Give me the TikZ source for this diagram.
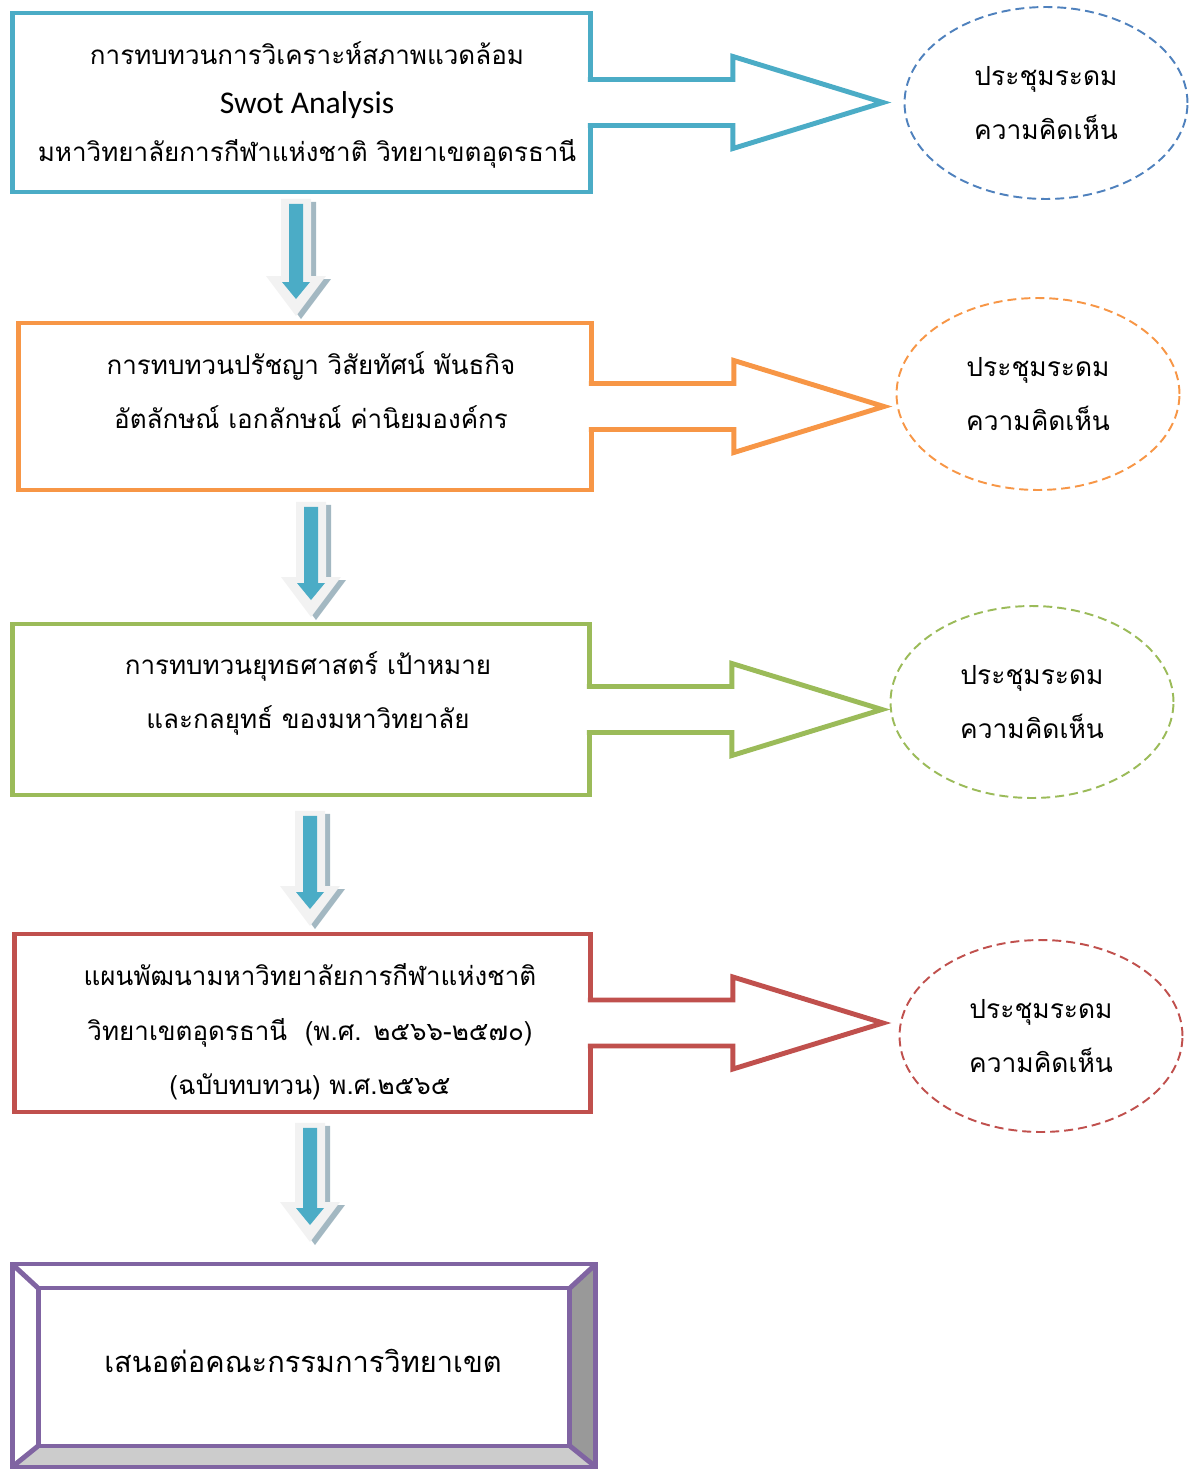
\documentclass[tikz,border=0pt]{standalone}
\usepackage{fontspec}
\newfontfamily\thaifont[Script=Thai]{Loma}
\newfontfamily\latinfont{Carlito}
\usetikzlibrary{calc,shapes.geometric}

\definecolor{swotcyan}{HTML}{4BACC6}
\definecolor{visionorange}{HTML}{F79646}
\definecolor{stratgreen}{HTML}{9BBB59}
\definecolor{planred}{HTML}{C0504D}
\definecolor{boardpurple}{HTML}{8064A2}
\definecolor{meetblue}{HTML}{4F81BD}
\definecolor{flowlight}{HTML}{F2F2F2}
\definecolor{flowshade}{HTML}{A3B8C2}

% block arrow pointing down: #1 = top, #2 = tip
\newcommand{\flowdown}[2]{%
  \fill[flowshade] ($(#1)+(-10,3)$) -- ($(#1)+(20,3)$) -- ($(#2)+(20,-37)$) -- ($(#2)+(35,-37)$)
     -- ($(#2)+(5,3)$) -- ($(#2)+(-25,-37)$) -- ($(#2)+(-10,-37)$) -- cycle;
  \fill[flowlight] ($(#1)+(-15,0)$) -- ($(#1)+(15,0)$) -- ($(#2)+(15,-40)$) -- ($(#2)+(30,-40)$)
     -- (#2) -- ($(#2)+(-30,-40)$) -- ($(#2)+(-15,-40)$) -- cycle;
  \fill[swotcyan] ($(#1)+(-7,5)$) -- ($(#1)+(7,5)$) -- ($(#2)+(7,-34)$) -- ($(#2)+(14,-34)$)
     -- ($(#2)+(0,-17)$) -- ($(#2)+(-14,-34)$) -- ($(#2)+(-7,-34)$) -- cycle;
}
% open block arrow from a box to the right
\newcommand{\sidearrow}[2]{%
  \draw[sidearr, draw=#2] ($(#1.east)+(-3,-23)$) -- ++(145,0) -- ++(0,-23) -- ++(150,46)
     -- ++(-150,46) -- ++(0,-23) -- ($(#1.east)+(-3,23)$);
}

\begin{document}
\begin{tikzpicture}[x=0.02cm, y=-0.02cm,
    stepbox/.style={draw, line width=2.8pt, fill=white, outer sep=0pt, inner sep=0pt},
    boxtext/.style={align=center, inner sep=0pt, font=\thaifont\fontsize{14.8}{31}\selectfont},
    sidearr/.style={line width=2.8pt, fill=white},
    meeting/.style={ellipse, draw=meetblue, line width=1.1pt, dash pattern=on 0.18cm off 0.1cm,
        minimum width=5.66cm, minimum height=3.84cm, inner sep=0pt, align=center,
        font=\thaifont\fontsize{15}{31}\selectfont}]
  \useasboundingbox (0,0) rectangle (1191,1470);

  % boxes of the review steps
  \node[stepbox, draw=swotcyan, minimum width=11.58cm, minimum height=3.58cm] (b1) at (301.5,102.5) {};
  \node[stepbox, draw=visionorange, minimum width=11.48cm, minimum height=3.34cm] (b2) at (305,406.5) {};
  \node[stepbox, draw=stratgreen, minimum width=11.56cm, minimum height=3.42cm] (b3) at (301,709.5) {};
  \node[stepbox, draw=planred, minimum width=11.54cm, minimum height=3.56cm] (b4) at (302.5,1023) {};

  \node[boxtext, font=\thaifont\fontsize{14.8}{27.8}\selectfont] (t1) at (307,105)
    {การทบทวนการวิเคราะห์สภาพแวดล้อม\\{\latinfont\fontsize{18}{27.8}\selectfont Swot Analysis}\\มหาวิทยาลัยการกีฬาแห่งชาติ วิทยาเขตอุดรธานี};
  \node[boxtext] (t2) at (311,390) {การทบทวนปรัชญา วิสัยทัศน์ พันธกิจ\\อัตลักษณ์ เอกลักษณ์ ค่านิยมองค์กร};
  \node[boxtext] (t3) at (308,693.5) {การทบทวนยุทธศาสตร์ เป้าหมาย\\และกลยุทธ์ ของมหาวิทยาลัย};
  \node[boxtext] (t4) at (310,1032)
    {แผนพัฒนามหาวิทยาลัยการกีฬาแห่งชาติ\\วิทยาเขตอุดรธานี~ (พ.ศ. ๒๕๖๖-๒๕๗๐)\\(ฉบับทบทวน) พ.ศ.๒๕๖๕};

  % meetings
  \node[meeting] (e1) at (1046,103) {ประชุมระดม\\ความคิดเห็น};
  \node[meeting, draw=visionorange] (e2) at (1038,394) {ประชุมระดม\\ความคิดเห็น};
  \node[meeting, draw=stratgreen] (e3) at (1032,702) {ประชุมระดม\\ความคิดเห็น};
  \node[meeting, draw=planred] (e4) at (1041,1036) {ประชุมระดม\\ความคิดเห็น};

  \sidearrow{b1}{swotcyan}
  \sidearrow{b2}{visionorange}
  \sidearrow{b3}{stratgreen}
  \sidearrow{b4}{planred}

  % last box, bevelled
  \node[stepbox, draw=none, fill=none, minimum width=11.68cm, minimum height=4.06cm] (b5) at (304,1365.5) {};
  \coordinate (i1) at ($(b5.north west)+(26,24)$);
  \coordinate (i2) at ($(b5.south east)+(-26,-21)$);
  \fill[black!20] (b5.south west) -- (b5.south east) -- (i2) -- (i1 |- i2) -- cycle;
  \fill[black!40] (b5.north east) -- (b5.south east) -- (i2) -- (i2 |- i1) -- cycle;
  \draw[boardpurple, line width=2.8pt] (b5.north west) rectangle (b5.south east);
  \draw[boardpurple, line width=2.8pt] (i1) rectangle (i2);
  \draw[boardpurple, line width=2.8pt] (b5.north west) -- (i1) (b5.south east) -- (i2)
     (b5.north east) -- (i2 |- i1) (b5.south west) -- (i1 |- i2);
  \node[boxtext, font=\thaifont\fontsize{16.5}{31}\selectfont] (t5) at (303,1361) {เสนอต่อคณะกรรมการวิทยาเขต};

  % steps downwards
  \coordinate (d1) at ($(b1.south)+(-5.5,7)$);
  \coordinate (d2) at ($(b2.south)+(6,12)$);
  \coordinate (d3) at ($(b3.south)+(9,16)$);
  \coordinate (d4) at ($(b4.south)+(7.5,11)$);
  \coordinate (p1) at ($(d1 |- b2.north)+(0,-7)$);
  \coordinate (p2) at ($(d2 |- b3.north)+(0,-7)$);
  \coordinate (p3) at ($(d3 |- b4.north)+(0,-8)$);
  \coordinate (p4) at ($(d4 |- b5.north)+(0,-22)$);
  \flowdown{d1}{p1}
  \flowdown{d2}{p2}
  \flowdown{d3}{p3}
  \flowdown{d4}{p4}
\end{tikzpicture}
\end{document}
